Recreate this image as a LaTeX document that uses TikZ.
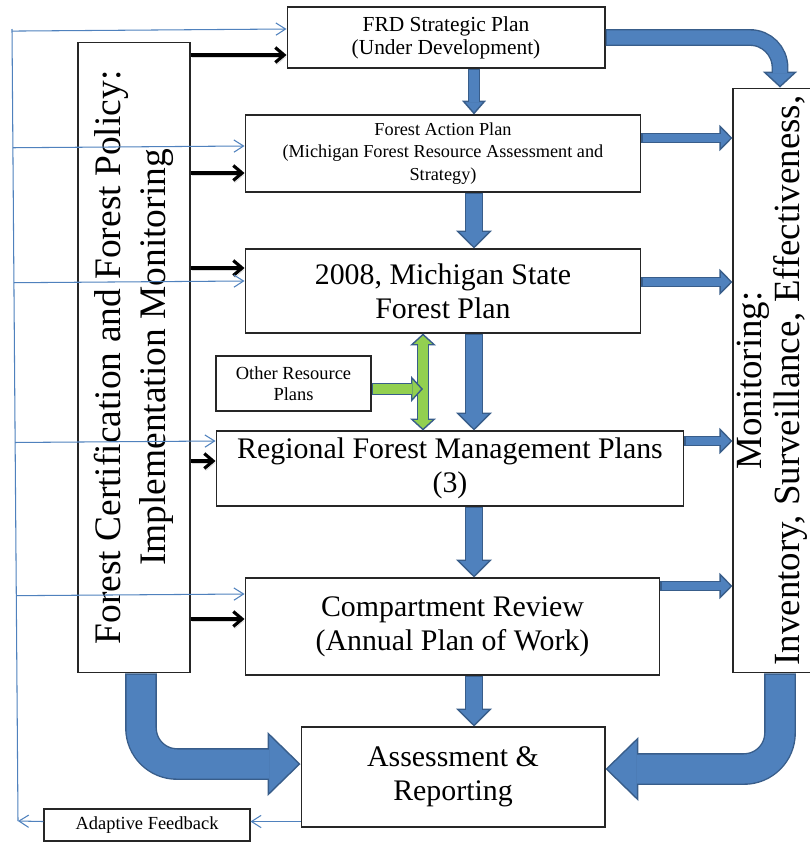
\documentclass[tikz,border=0pt]{standalone}
\usepackage{fontspec}
\setmainfont{Liberation Serif}
\usetikzlibrary{arrows.meta,calc}
\definecolor{arrfill}{HTML}{4F81BD}
\definecolor{arredge}{HTML}{385D8A}
\definecolor{leafgreen}{HTML}{92D050}
\definecolor{fbblue}{HTML}{4F81BD}
\tikzset{
    box/.style={draw=black!85, line width=0.6pt, align=center, inner sep=2pt},
    bigtext/.style={font=\fontsize{17}{19.3}\selectfont},
    sidetext/.style={font=\fontsize{21.3}{26}\selectfont},
    smalltext/.style={font=\fontsize{10.5}{12}\selectfont},
    fbline/.style={draw=fbblue, line width=0.6pt},
    fb/.style={fbline, -{Straight Barb[length=5.5pt,width=7pt]}},
    push/.style={line width=1.8pt, -{Straight Barb[length=5pt,width=8.5pt]},
        preaction={draw=black!15, transform canvas={xshift=0.8pt,yshift=-1.2pt}}},
    fat/.style n args={4}{draw=arredge, line width=#2,
        -{Triangle[length=#4,width=#3,fill=#1,line width=0.8pt]},
        postaction={draw=#1, line width=#2-1.6pt, -, shorten <=0.8pt, shorten >=#4-0.8pt}},
    fatboth/.style n args={4}{draw=arredge, line width=#2,
        {Triangle[length=#4,width=#3,fill=#1,line width=0.8pt]}-{Triangle[length=#4,width=#3,fill=#1,line width=0.8pt]},
        postaction={draw=#1, line width=#2-1.6pt, -, shorten <=#4-0.8pt, shorten >=#4-0.8pt}},
}
\begin{document}
\begin{tikzpicture}[x=0.02cm, y=-0.02cm]
    \useasboundingbox (0,0) rectangle (809,842);
    \node[box, font=\fontsize{12.2}{13}\selectfont, minimum width=6.36cm, minimum height=1.22cm] (frd) at (446,37.5) {FRD Strategic Plan\\(Under Development)};
    \node[box, font=\fontsize{10.4}{12.8}\selectfont, minimum width=7.92cm, minimum height=1.54cm] (fap) at (443,153.5) {Forest Action Plan\\(Michigan Forest Resource Assessment and\\Strategy)};
    \node[box, bigtext, minimum width=7.92cm, minimum height=1.68cm] (msfp) at (443,291) {2008, Michigan State\\Forest Plan};
    \node[box, smalltext, minimum width=3.1cm, minimum height=1.1cm] (other) at (293.5,383.5) {Other Resource\\Plans};
    \node[box, bigtext, minimum width=9.36cm, minimum height=1.5cm] (regional) at (450,468.5) {Regional Forest Management Plans\\(3)};
    \node[box, bigtext, minimum width=8.3cm, minimum height=1.94cm] (compart) at (452.5,626.5) {Compartment Review\\(Annual Plan of Work)};
    \node[box, bigtext, minimum width=6.08cm, minimum height=2cm] (assess) at (453,777) {Assessment \&\\Reporting};
    \node[box, smalltext, minimum width=4.12cm, minimum height=0.64cm] (adapt) at (147,825) {Adaptive Feedback};
    \node[box, sidetext, rotate=90, minimum width=12.62cm, minimum height=2.24cm] (certif) at (134,357.5) {Forest Certification and Forest Policy:\\Implementation Monitoring};
    \node[box, font=\fontsize{21}{21.5}\selectfont, rotate=90, minimum width=11.7cm, minimum height=1.56cm] (monit) at (772,380.5) {Monitoring:\\Inventory, Surveillance, Effectiveness,};

    \coordinate (spine) at (474,0);
    \coordinate (graft) at (423,0);
    \draw[fat={arrfill}{6.8pt}{13.6pt}{7.9pt}] (frd.south -| spine) -- (fap.north -| spine);
    \foreach \a/\b in {fap/msfp, msfp/regional, regional/compart, compart/assess}
        \draw[fat={arrfill}{10.2pt}{20.4pt}{10.2pt}] (\a.south -| spine) -- (\b.north -| spine);
    \foreach \t/\dy in {fap/-15.5, msfp/-9, regional/-27.5, compart/-40.5} {
        \coordinate (out) at ($(\t.east)+(0,\dy)$);
        \draw[fat={arrfill}{6.2pt}{14.7pt}{7.4pt}] (out) -- (out -| monit.north);
    }
    \draw[fat={arrfill}{9.6pt}{19.3pt}{9pt}, rounded corners=0.6cm] (frd.east) -| ([xshift=0.16cm]monit.east);
    \draw[fat={arrfill}{18.1pt}{36.3pt}{18.7pt}, rounded corners=0.72cm] ([xshift=0.14cm]certif.west) |- ([yshift=0.26cm]assess.west);
    \draw[fat={arrfill}{18.1pt}{36.3pt}{18.7pt}, rounded corners=0.72cm] ([xshift=0.16cm]monit.west) |- ([yshift=0.16cm]assess.east);
    \draw[fatboth={leafgreen}{6.8pt}{14.7pt}{6.8pt}] (msfp.south -| graft) -- (regional.north -| graft);
    \draw[fat={leafgreen}{6.8pt}{14.7pt}{6.8pt}] ([yshift=-0.11cm]other.east) -- ([yshift=-0.11cm]other.east -| graft);

    \foreach \t/\dy in {frd/17.5, fap/19.5, msfp/-23, regional/-7.5, compart/-7.5} {
        \coordinate (in) at ($(\t.west)+(0,\dy)$);
        \draw[push] (certif.south |- in) -- (in);
    }

    \coordinate (fbtop) at (12,29);
    \coordinate (fbbot) at (18,821);
    \coordinate (fbout) at ($(assess.south west)+(0,-6)$);
    \draw[fb] (fbout) -- (adapt.east |- fbout);
    \draw[fb] (adapt.west |- fbout) -- (fbbot);
    \draw[fbline] (fbbot) -- (fbtop);
    \foreach \t/\dy in {frd/-8.5, fap/-7.5, msfp/-10, regional/-27.5, compart/-32.5} {
        \coordinate (back) at ($(\t.west)+(0,\dy)$);
        \draw[fb] ($(fbtop)!(back)!(fbbot)$) -- (back);
    }
\end{tikzpicture}
\end{document}
